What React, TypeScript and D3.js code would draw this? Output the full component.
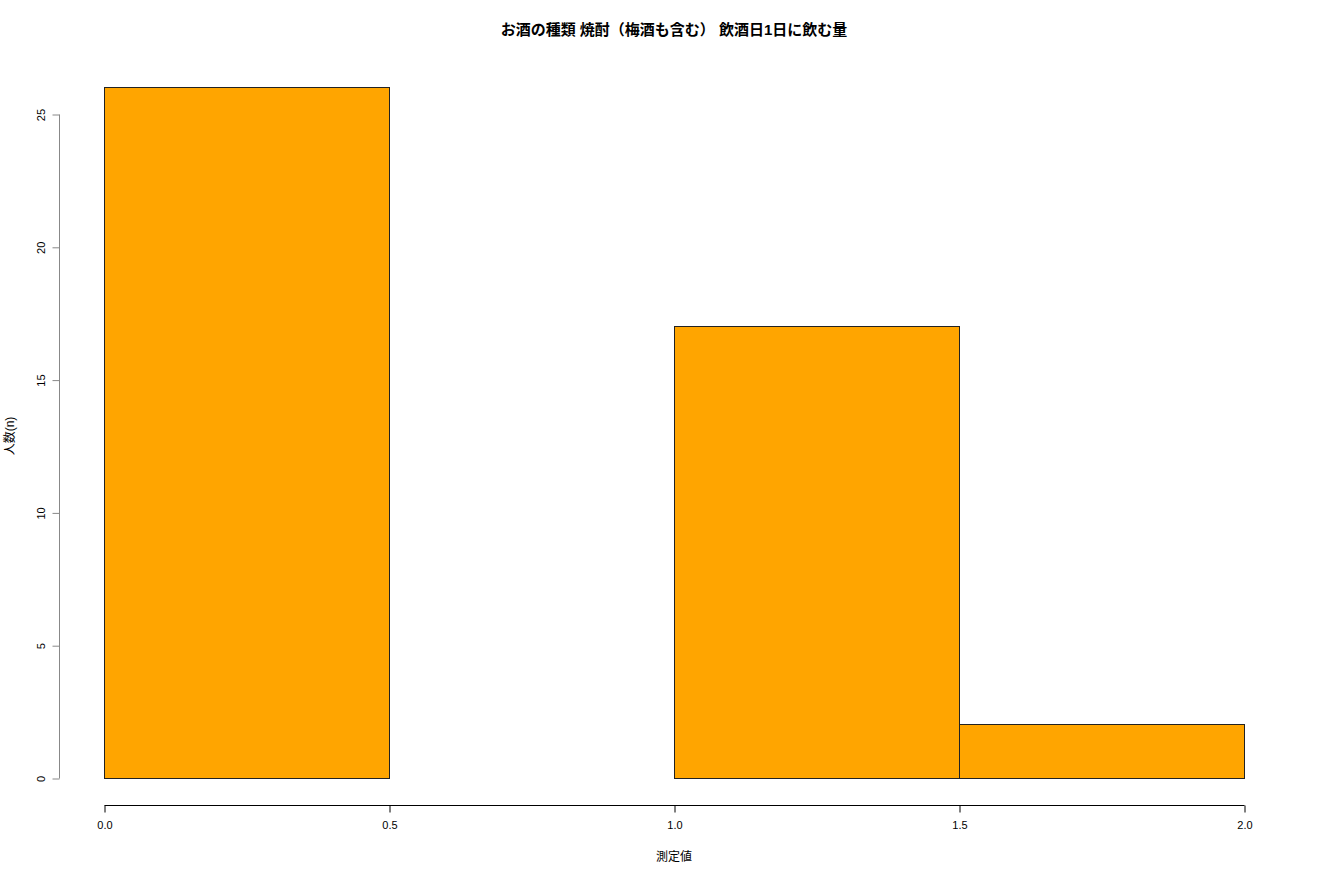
import { useEffect, useRef } from 'react';
import * as d3 from 'd3';

// ─── Data ───────────────────────────────────────────────────
const binEdges = [0, 0.5, 1.0, 1.5, 2.0];
const counts = [26, 0, 17, 2];
const xTicks = [0, 0.5, 1.0, 1.5, 2.0];
const yTicks = [0, 5, 10, 15, 20, 25];

const TITLE = 'お酒の種類 焼酎（梅酒も含む） 飲酒日1日に飲む量';
const X_LABEL = '測定値';
const Y_LABEL = '人数(n)';

const W = 1320;
const H = 880;
const FONT = '"Liberation Sans", "Noto Sans CJK JP", sans-serif';

export default function App() {
  const svgRef = useRef<SVGSVGElement>(null);

  useEffect(() => {
    if (!svgRef.current) return;
    const svg = d3.select(svgRef.current);
    svg.selectAll('*').remove();

    const x = d3.scaleLinear().domain([0, 2]).range([104, 1244]);
    const y = d3.scaleLinear().domain([0, 25]).range([778, 114]);

    svg.append('rect').attr('width', W).attr('height', H).attr('fill', '#fff');

    // bars
    const bins = counts.map((c, i) => ({ x0: binEdges[i], x1: binEdges[i + 1], c }));
    svg.append('g')
      .selectAll('rect')
      .data(bins)
      .join('rect')
      .attr('x', (d) => x(d.x0) + 0.5)
      .attr('y', (d) => Math.floor(y(d.c)) + 0.5)
      .attr('width', (d) => x(d.x1) - x(d.x0))
      .attr('height', (d) => y(0) - Math.floor(y(d.c)))
      .attr('fill', '#FFA500')
      .attr('stroke', '#222')
      .attr('stroke-width', 1);

    // x axis
    const xa = svg.append('g').attr('transform', 'translate(0.5,805.5)')
      .call(d3.axisBottom(x).tickValues(xTicks).tickFormat(d3.format('.1f')).tickSize(7).tickSizeOuter(0).tickPadding(9));
    xa.select('.domain').attr('stroke', '#000').attr('d', `M${x(0)},0H${x(2)}`);
    xa.selectAll('line').attr('stroke', '#000');
    xa.selectAll('text').attr('font-family', FONT).attr('font-size', 11).attr('fill', '#000');

    // y axis
    const ya = svg.append('g').attr('transform', 'translate(59.5,0.5)')
      .call(d3.axisLeft(y).tickValues(yTicks).tickFormat(d3.format('d')).tickSize(7).tickSizeOuter(0).tickPadding(0));
    ya.select('.domain').attr('stroke', '#888').attr('d', `M0,${y(0)}V${y(25)}`);
    ya.selectAll('line').attr('stroke', '#888');
    ya.selectAll('.tick text')
      .attr('font-family', FONT).attr('font-size', 11).attr('fill', '#000')
      .attr('x', null).attr('dy', null)
      .attr('text-anchor', 'middle')
      .attr('transform', 'translate(-17,0) rotate(-90)')
      .attr('dominant-baseline', 'middle');

    // title and labels
    svg.append('text')
      .attr('x', 674).attr('y', 35)
      .attr('text-anchor', 'middle')
      .attr('font-family', FONT).attr('font-size', 15).attr('font-weight', 'bold')
      .text(TITLE);

    svg.append('text')
      .attr('x', 674).attr('y', 861)
      .attr('text-anchor', 'middle')
      .attr('font-family', FONT).attr('font-size', 12)
      .text(X_LABEL);

    svg.append('text')
      .attr('transform', 'translate(14,436) rotate(-90)')
      .attr('text-anchor', 'middle')
      .attr('font-family', FONT).attr('font-size', 12)
      .text(Y_LABEL);
  }, []);

  return (
    <svg ref={svgRef} width={W} height={H}
      style={{ position: 'absolute', left: 0, top: 0, display: 'block' }} />
  );
}
